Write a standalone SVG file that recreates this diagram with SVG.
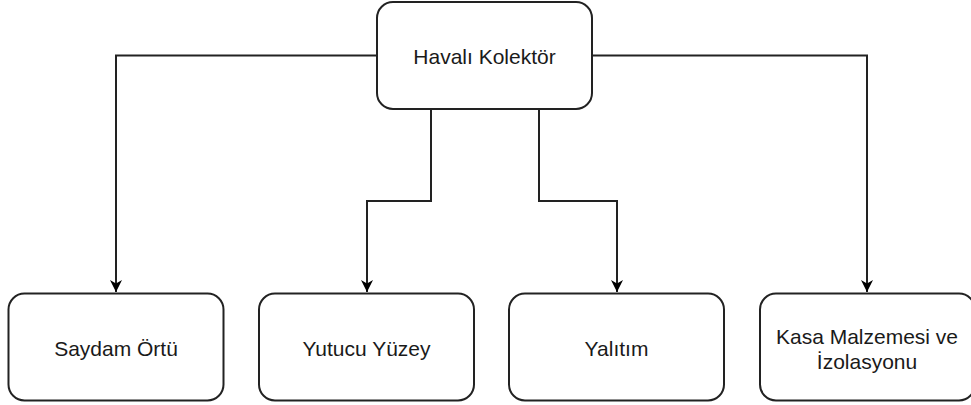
<svg xmlns="http://www.w3.org/2000/svg" width="971" height="405" viewBox="0 0 971 405">
<defs>
<style>
.box{fill:#fff;stroke:#222;stroke-width:2}
.lbl{font-family:"Liberation Sans",Arial,sans-serif;font-size:21px;fill:#1a1a1a;text-anchor:middle;dominant-baseline:central}
.edge{fill:none;stroke:#222;stroke-width:2}
</style>
<marker id="arr" viewBox="0 0 12 12" refX="12" refY="6" markerWidth="12" markerHeight="12" markerUnits="userSpaceOnUse" orient="auto">
<path d="M0,0 L12,6 L0,12 L3.5,6 Z" fill="#000"/>
</marker>
</defs>
<rect width="971" height="405" fill="#fff"/>
<g id="connectors">
<path class="edge" d="M377,55.5 H116 V292" marker-end="url(#arr)"/>
<path class="edge" d="M431,109 V201 H367 V292" marker-end="url(#arr)"/>
<path class="edge" d="M539,109 V201 H617 V292" marker-end="url(#arr)"/>
<path class="edge" d="M592,55.5 H867 V292" marker-end="url(#arr)"/>
</g>
<g id="havali-kolektor">
<rect class="box" x="377" y="2" width="215" height="107" rx="16"/>
<text class="lbl" x="484.5" y="56">Havalı Kolektör</text>
</g>
<g id="saydam-ortu">
<rect class="box" x="8.5" y="293.5" width="215" height="107" rx="16"/>
<text class="lbl" x="116" y="348">Saydam Örtü</text>
</g>
<g id="yutucu-yuzey">
<rect class="box" x="259" y="293.5" width="215" height="107" rx="16"/>
<text class="lbl" x="366.5" y="348">Yutucu Yüzey</text>
</g>
<g id="yalitim">
<rect class="box" x="509" y="293.5" width="215" height="107" rx="16"/>
<text class="lbl" x="616.5" y="348">Yalıtım</text>
</g>
<g id="kasa-malzemesi">
<rect class="box" x="760" y="293.5" width="215" height="107" rx="16"/>
<text class="lbl" x="867" y="336">Kasa Malzemesi ve</text>
<text class="lbl" x="867" y="361">İzolasyonu</text>
</g>
</svg>
